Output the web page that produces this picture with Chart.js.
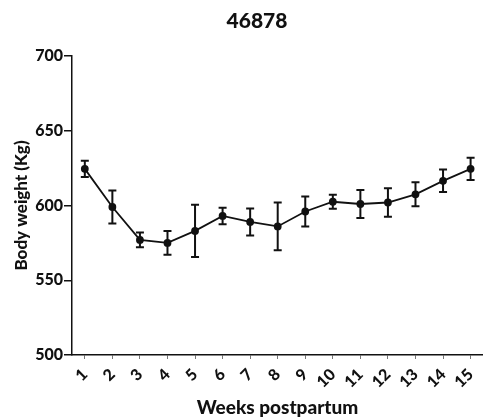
<!DOCTYPE html>
<html>
<head>
<meta charset="utf-8">
<script src="https://cdn.jsdelivr.net/npm/chart.js@4"></script>
<style>
  body { margin: 0; background: #fff; }
  #wrap { position: relative; width: 483px; height: 419px; }
  #title { position: absolute; left: 207px; width: 100px; top: 7px; text-align: center;
           font: 900 21px Lato, sans-serif; color: #111; }
</style>
</head>
<body>
<div id="wrap">
  <div id="title">46878</div>
  <canvas id="bwPlot" width="483" height="419"></canvas>
</div>
<script>
const weeks = [1, 2, 3, 4, 5, 6, 7, 8, 9, 10, 11, 12, 13, 14, 15];
const bodyWeight = [624.5, 599, 577, 575, 583, 593, 589, 586, 596, 602.5, 601, 602, 607.5, 616.5, 624.5];
const errBar = [5.5, 11, 5, 8, 17.5, 5.5, 9, 16, 10, 4.7, 9.3, 9.5, 8, 7.5, 7.4];
const yTicks = [500, 550, 600, 650, 700];

// draws SEM bars using the chart scales
const errorBars = {
    id: 'errorBars',
    afterDatasetsDraw(chart) {
        const ctx = chart.ctx;
        const xs = chart.scales.x;
        const ys = chart.scales.y;
        ctx.save();
        ctx.strokeStyle = '#111';
        ctx.lineWidth = 2;
        weeks.forEach((w, i) => {
            const x = xs.getPixelForValue(w);
            const top = ys.getPixelForValue(bodyWeight[i] + errBar[i]);
            const bot = ys.getPixelForValue(bodyWeight[i] - errBar[i]);
            ctx.beginPath();
            ctx.moveTo(x, top); ctx.lineTo(x, bot);
            ctx.moveTo(x - 4, top); ctx.lineTo(x + 4, top);
            ctx.moveTo(x - 4, bot); ctx.lineTo(x + 4, bot);
            ctx.stroke();
        });
        ctx.restore();
    }
};

const font = { family: 'Lato, sans-serif', weight: 900, size: 16 };

new Chart(document.getElementById('bwPlot').getContext('2d'), {
    type: 'line',
    data: {
        datasets: [{
            data: weeks.map((w, i) => ({ x: w, y: bodyWeight[i] })),
            borderColor: '#111',
            backgroundColor: '#111',
            borderWidth: 1.8,
            pointRadius: 3,
            pointHoverRadius: 3,
            tension: 0
        }]
    },
    options: {
        responsive: false,
        animation: false,
        layout: { autoPadding: false, padding: { top: 56, right: 0, left: 11, bottom: 0 } },
        plugins: { legend: { display: false }, tooltip: { enabled: false } },
        scales: {
            x: {
                type: 'linear',
                min: 0.535,
                max: 15.45,
                afterBuildTicks: (axis) => { axis.ticks = weeks.map(v => ({ value: v })); },
                afterFit: (axis) => { axis.height = 64; axis.paddingLeft = 0; axis.paddingRight = 0; },
                border: { display: true, color: '#111', width: 1.5 },
                grid: { drawOnChartArea: false, drawTicks: true, tickLength: 4, color: '#777' },
                ticks: { color: '#111', font: font, autoSkip: false, minRotation: 45, maxRotation: 45, padding: 6 },
                title: { display: true, text: 'Weeks postpartum', color: '#111', font: { ...font, size: 19 }, padding: { top: 0, bottom: 0 } }
            },
            y: {
                min: 500,
                max: 700,
                afterBuildTicks: (axis) => { axis.ticks = yTicks.map(v => ({ value: v })); },
                afterFit: (axis) => { axis.width = 61; },
                border: { display: true, color: '#111', width: 1.5 },
                grid: { drawOnChartArea: false, drawTicks: true, tickLength: 8, color: '#111', lineWidth: 1.5 },
                ticks: { color: '#111', font: font, padding: 1 },
                title: { display: true, text: 'Body weight (Kg)', color: '#111', font: { ...font, size: 17 }, padding: { top: 0, bottom: 0 } }
            }
        }
    },
    plugins: [errorBars]
});
</script>
</body>
</html>
